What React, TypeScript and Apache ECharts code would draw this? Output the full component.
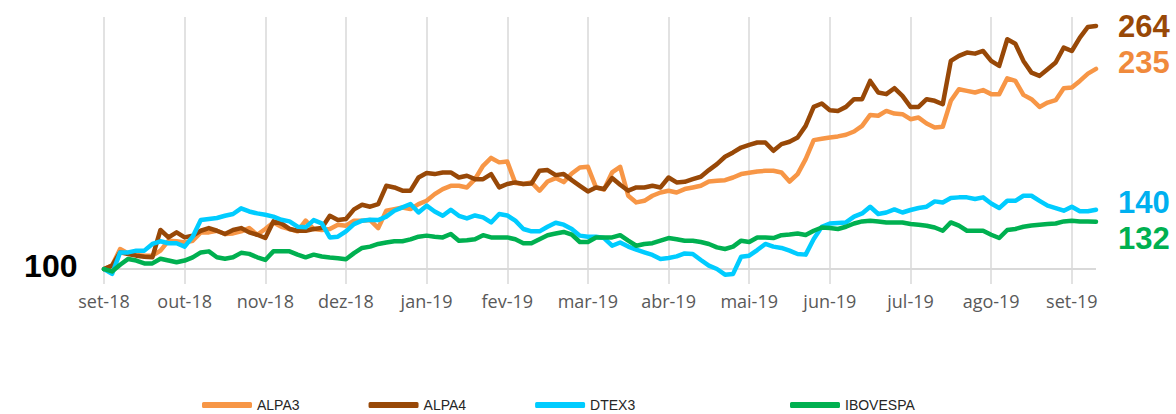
import React, { useEffect, useRef } from "react";
import * as echarts from "echarts";

const monthLabels = ["set-18", "out-18", "nov-18", "dez-18", "jan-19", "fev-19", "mar-19", "abr-19", "mai-19", "jun-19", "jul-19", "ago-19", "set-19"];

const alpa3 = [100, 102.4, 113.6, 110.6, 109.6, 109.1, 109.1, 112.5, 119.2, 118.8, 118, 119.2, 124.8, 124.8, 125.9, 123.7, 124.1, 125.5, 127.7, 123.2, 127.1, 131.5, 128.6, 127.1, 125.5, 132.7, 127.1, 126.4, 127.1, 130, 129.3, 132.7, 132.7, 133.1, 127.7, 139.4, 140.5, 141.6, 140.5, 143.9, 146.1, 150.6, 154, 156.2, 156.2, 155.1, 160.7, 169.7, 175, 172, 172.6, 158, 157.4, 158.5, 152.9, 159.1, 161.4, 158.7, 164.5, 168.5, 169, 155.1, 153.7, 165.2, 169, 149.5, 145, 146.1, 149.5, 151.7, 152.9, 151.7, 154, 155.1, 156.2, 159.1, 159.6, 160, 161.8, 164.1, 165, 165.9, 166.3, 166.3, 165.2, 159.1, 164.1, 174.2, 187, 187.9, 188.8, 189.5, 190.6, 192.8, 196.6, 204, 203.4, 206.7, 204.9, 204.5, 201.1, 202.2, 198.2, 195.5, 196, 213.5, 221.3, 220.2, 219.1, 220.7, 218, 218, 228.7, 226.9, 217.5, 214.6, 209.4, 212.3, 213.9, 222, 222.4, 226.9, 231.8, 235];

const alpa4 = [100, 102.4, 111.3, 110.2, 109.1, 108.4, 108, 126.4, 121.4, 124.8, 121.4, 122.6, 125.9, 127.7, 125.9, 123.7, 126.4, 127.7, 124.8, 123.2, 121, 132.2, 130.8, 127.1, 125.9, 125.9, 127.1, 127.7, 136, 133.1, 133.8, 140.3, 143.4, 142.1, 143.9, 156.2, 155.1, 152.9, 152.9, 161.8, 164.8, 164.1, 165.2, 165.2, 161.8, 163, 160.7, 160.7, 164.1, 155.1, 157.4, 158.5, 157.4, 157.8, 166.3, 166.8, 163.4, 164.1, 160, 156.2, 152.4, 155.1, 154, 161.4, 156.9, 152.9, 155.1, 155.1, 156.2, 155.1, 161.8, 158.5, 158.9, 160.7, 162.3, 166.8, 170.8, 175.8, 178.7, 182, 183.8, 185.4, 185.4, 179.8, 184.3, 185.9, 188.8, 196.6, 209.4, 211.7, 207.2, 206.7, 209.4, 214.6, 214.6, 226.9, 219.1, 218, 222, 216.8, 209.4, 209.4, 214.6, 213.5, 211.2, 240.4, 243.8, 246, 245.3, 247.1, 240.4, 237, 255, 252, 240.4, 232.5, 230.3, 234.8, 239.3, 249.4, 247.1, 256.1, 263.3, 264];

const dtex3 = [100, 96.8, 111.3, 111.3, 112.5, 112.5, 117, 118.8, 117.5, 117.5, 115.2, 121.9, 133.1, 133.8, 134.5, 136, 137.2, 141, 138.9, 137.6, 136.7, 135.4, 133.3, 132.2, 128.6, 128.2, 133.1, 130.9, 121.4, 121.9, 125.5, 130.4, 132.7, 133.3, 133.1, 135.4, 139.4, 141.6, 143.9, 138.2, 142.8, 138.9, 136, 140.1, 136, 134.2, 136.2, 134.9, 131.5, 137.2, 136.2, 132.7, 127.1, 125.5, 125.5, 128.6, 131.3, 130, 127.1, 122.6, 121.9, 121.9, 121, 115.8, 118, 115.2, 113.1, 111.3, 109.6, 106.9, 107.5, 108.6, 110.6, 110.2, 106.2, 102.4, 100.1, 96.3, 96.8, 108.4, 109.1, 112.9, 117, 115.2, 114.3, 112.5, 110.2, 109.8, 120.3, 128.6, 130.8, 131.1, 131.5, 135.4, 137.6, 142.1, 137.2, 138.2, 140.3, 138.2, 139.9, 141.2, 142.1, 145.7, 145, 148, 148.4, 148.4, 147.3, 148.4, 144.3, 141.2, 146.1, 146.1, 149.5, 149.5, 146.1, 142.8, 141.2, 139.4, 142.1, 139, 139, 140];

const ibovespa = [100, 98.5, 103, 106.9, 105.8, 103.9, 103.9, 107, 105.8, 104.7, 105.8, 108, 111.3, 112, 108, 107, 108, 111, 110.3, 108, 106.2, 112, 112, 112, 109.8, 108, 109.8, 108.5, 107.8, 107.4, 106.7, 110.8, 114.3, 115.2, 117, 118, 118.8, 118.8, 120.1, 121.9, 122.6, 121.9, 121.4, 123.7, 119.2, 119.5, 120.2, 122.9, 121.4, 121.4, 121.4, 120.2, 117.5, 117.5, 120.2, 122.9, 124, 125.1, 123.3, 118.3, 118.3, 121.4, 121.4, 121.4, 122.9, 119.2, 115.8, 117, 117.5, 119.2, 121, 120.2, 119.2, 119.2, 118.3, 117, 114.7, 113.6, 115.2, 119.2, 118.3, 121.4, 121.4, 121, 122.9, 123.3, 124, 123, 125.9, 128.1, 127.7, 127.1, 128.6, 130.8, 132.2, 132.7, 132.2, 131.5, 131.5, 131.5, 130.4, 130, 129.3, 128.1, 125.9, 131.5, 129.3, 125.9, 125.9, 125.9, 123.2, 121, 126.4, 127.1, 128.6, 129.5, 130, 130.4, 130.8, 132.2, 132.7, 132.2, 132.2, 132];

const seriesNames = ["ALPA3", "ALPA4", "DTEX3", "IBOVESPA"];
const lineColors = ["#F79646", "#984807", "#00CCFF", "#00B050"];
const labelColors = ["#F08A3C", "#984807", "#00B0F0", "#00B050"];
const endOffsets = [-6, 1, -7, 17];
const POINTS_PER_MONTH = 10;

export default function App() {
  const ref = useRef<HTMLDivElement>(null);
  useEffect(() => {
    if (!ref.current) return;
    const chart = echarts.init(ref.current, null, { renderer: "svg" });
    const allValues = [alpa3, alpa4, dtex3, ibovespa];
    const categories = alpa3.map((_, i) => String(i));
    const series: any[] = allValues.map((vals, k) => ({
      name: seriesNames[k],
      type: "line",
      data: vals,
      showSymbol: false,
      symbol: "none",
      lineStyle: { width: 4.5, color: lineColors[k], cap: "round", join: "round" },
      itemStyle: { color: lineColors[k] },
      endLabel: {
        show: true,
        formatter: (p: any) => String(Math.round(p.value)),
        color: labelColors[k],
        fontSize: 31,
        lineHeight: 24,
        fontWeight: "bold",
        fontFamily: "Liberation Sans",
        distance: 22,
        offset: [0, endOffsets[k]],
      },
    }));
    series[0].markLine = {
      silent: true,
      symbol: "none",
      label: { show: false },
      lineStyle: { color: "#D9D9D9", width: 2, type: "solid" },
      data: [{ yAxis: 100 }],
      z: 1,
    };
    series[3].markPoint = {
      symbol: "circle",
      symbolSize: 1,
      itemStyle: { color: "transparent" },
      data: [{ coord: [0, ibovespa[0]], value: ibovespa[0] }],
      label: {
        show: true,
        position: "left",
        distance: 26,
        offset: [0, -3],
        formatter: "{c}",
        color: "#000000",
        fontSize: 32,
        lineHeight: 26,
        fontWeight: "bold",
        fontFamily: "Liberation Sans",
      },
    };
    const legendCommon = {
      orient: "horizontal",
      top: 393,
      itemWidth: 50,
      itemHeight: 6,
      itemGap: 69,
      icon: "roundRect",
      textStyle: { color: "#262626", fontSize: 14, lineHeight: 14, fontFamily: "Liberation Sans" },
      selectedMode: false,
    };
    chart.setOption({
      animation: false,
      backgroundColor: "#FFFFFF",
      grid: { left: 104, right: 80, top: 17, bottom: 130 },
      legend: [
        { ...legendCommon, left: 197, data: ["ALPA3", "ALPA4", "DTEX3"] },
        { ...legendCommon, left: 785, data: ["IBOVESPA"] },
      ],
      xAxis: {
        type: "category",
        boundaryGap: false,
        data: categories,
        axisLine: { show: false },
        axisTick: { show: false },
        splitLine: { show: true, interval: POINTS_PER_MONTH - 1, lineStyle: { color: "#D9D9D9", width: 1.5 } },
        axisLabel: {
          interval: POINTS_PER_MONTH - 1,
          formatter: (_v: string, idx: number) =>
            idx % POINTS_PER_MONTH === 0 ? monthLabels[idx / POINTS_PER_MONTH] ?? "" : "",
          color: "#595959",
          fontSize: 18,
          fontFamily: "Open Sans",
          margin: 8,
        },
      },
      yAxis: {
        type: "value",
        min: 90,
        max: 270,
        show: false,
        splitLine: { show: false },
      },
      series,
    });
    return () => chart.dispose();
  }, []);
  return <div ref={ref} style={{ position: "absolute", left: 0, top: 0, width: 1176, height: 414 }} />;
}
